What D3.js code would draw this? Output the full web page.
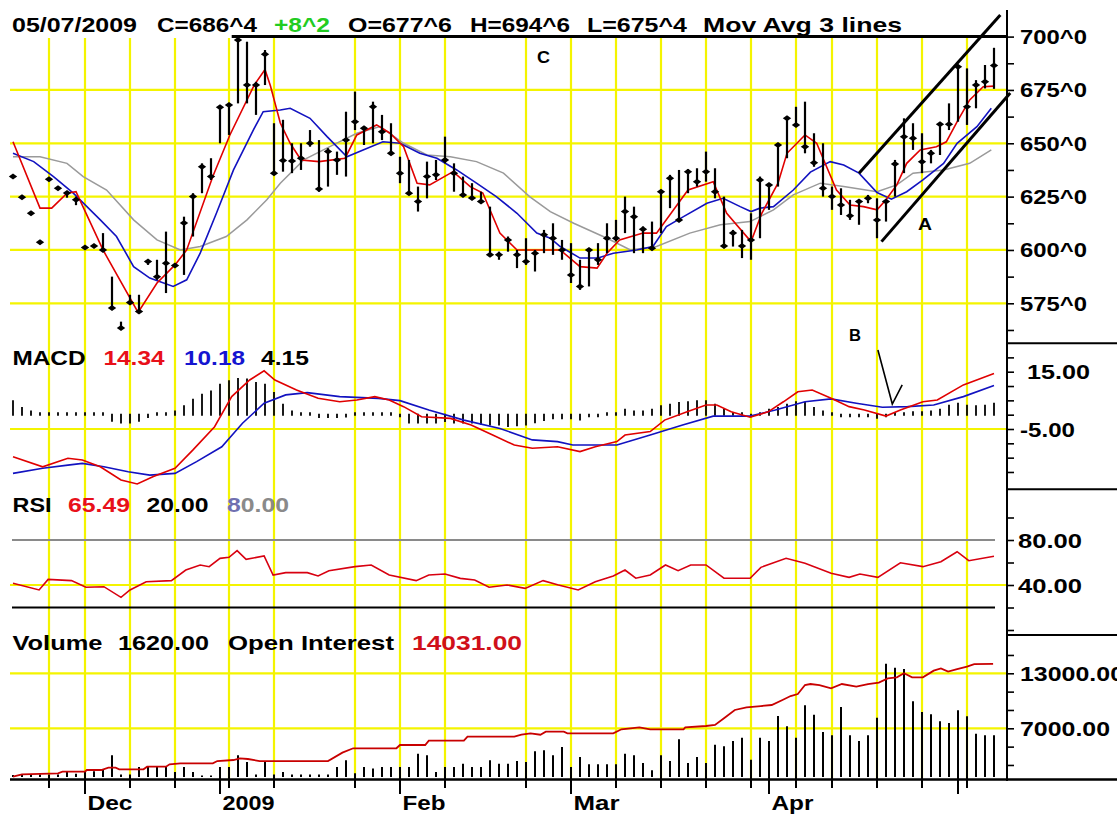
<!DOCTYPE html>
<html><head><meta charset="utf-8">
<script src="https://cdn.jsdelivr.net/npm/d3@7"></script>
<style>
body{margin:0;background:#fff}
svg{display:block}
text{font-family:"Liberation Sans",Arial,Helvetica,sans-serif;font-weight:bold}
</style>
</head><body><svg id="c" width="1117" height="814"></svg>
<script>
// ---------------- DATA ----------------
// trading-day index 0..109 (last bar = 05/07/2009)
const high  = [634.4,624.7,617.2,603.6,633.1,628.9,627.5,625,601.1,601.9,607.9,587.5,566.4,579,579,595.4,595.4,608.6,593.9,615.6,626.6,640.6,643,667.5,668.7,699.2,697.6,678.8,693.7,659.4,661,650,650,656.2,651.5,647.7,646.1,664.8,674.2,657.8,669.5,663.3,659.4,643.7,642.2,629.7,641.4,642.2,653.1,640.6,634.4,631.3,627.3,620.3,599.2,606.3,600,605.5,600,609.4,612.5,604.7,603.2,595.4,600,603.2,612.5,614.1,625,620.3,611,613.3,628.1,635.2,637.5,637.8,638.3,646.1,638.3,625,609.4,609.4,617.2,634.4,631.3,650,662.5,667.1,669.5,654.7,650,629.7,628.9,623.5,623.5,625.8,624.2,623.5,642.2,661.7,659.4,654.7,646.9,659.4,668.7,686.7,685.1,679.6,686.7,694.75];
const low   = [634.4,624.7,617.2,603.6,633.1,628.9,624.5,621,601.1,601.9,599.2,572,563.4,574.3,570.4,593,586,579.8,592,588.3,606.3,626.6,632.8,650,653.9,668.7,668.7,663.3,677.3,636,636.7,636,637.5,648.4,627.3,629.7,635.2,634.4,656.2,649.2,650,651.5,644.5,631.3,625.8,618,624.2,632.8,640.6,627.3,625,623.5,621.9,597.7,595.4,599.2,591.5,593,589.9,598.5,597.7,595.4,584.5,581.3,582.9,593,598.5,604,607.9,598.5,598.5,600,607.9,619.6,613.3,626.6,629.7,632,624.2,600.8,601.6,596.2,595.4,605.5,618.8,629.7,643,657.8,645.3,639,625,618.8,616.4,614.1,611.8,621.9,605.5,613.3,625,636,646.9,636,640.6,644.5,656.2,660.1,658.6,666.4,675.7,675.5];
const close = [634.4,624.7,617.2,603.6,633.1,628.9,626.7,623.5,601.1,601.9,600,572.8,563.4,575.4,571.2,594.6,587.5,593.8,592.7,612.6,625,639,634.4,666.9,668,698.4,677.3,677.3,691.7,636,641.9,641.7,643,650,628.6,646.1,642.2,651.5,660.1,657,667.1,655.4,645.3,636,626.6,622.7,634.4,635.2,642.2,636,625.8,624.3,622.7,597.7,597.7,604.7,597.7,594.6,598.5,607.1,605.5,600,588.3,582.9,600,595.4,605.5,605.5,618,615.6,609.7,600.8,627.3,633.6,614.1,636.7,632,636.7,627.3,601.9,607.9,601.9,604.7,632.8,630.5,649.2,661.7,658.6,648.4,640.9,628.9,625,621.1,616,622.7,624.2,614.1,622.7,640.3,653.1,652.3,641.4,645.3,658.9,658.9,685.9,667.1,677.3,678.8,686.5];

// moving averages: [day index, value]
const maFast = [[0,650.7],[3,619.6],[4.3,619.6],[6,626.6],[7,627.3],[10,600],[13.9,570.7],[16,584.5],[18,593],[19.3,600],[22.2,634.4],[24.1,653.9],[26.8,677.3],[28,684.6],[28.6,677],[29.7,659.5],[30.8,650],[32,642.2],[34,641.4],[36.9,643],[38.2,653.9],[40.4,658.6],[41.9,654.7],[43.4,648.4],[44.9,631.3],[46.3,630.5],[48.9,636.7],[50.8,629.7],[52.2,626.7],[54.1,607.9],[56,600],[58.2,600],[60.8,600],[63,592.2],[64.9,591.5],[66,598.5],[67.4,604.7],[70,607.9],[71.5,607.9],[73.4,618.8],[75,628.1],[77.8,632],[79.3,617.2],[82,603.9],[83.2,617.2],[85,631.3],[86,645.3],[88,653.9],[89.3,650],[90,643],[91.5,628.1],[93,621.1],[94.5,620.3],[96,618.8],[97,623.5],[98.2,630.5],[99.3,640.6],[100.8,646.9],[102.6,648.4],[103.7,650.7],[105,660.9],[106.3,670.3],[107.8,676.5],[109,676.8]];
const maMid = [[0,645.3],[2.3,641.4],[4.5,634.4],[6.7,626.6],[9.7,614.1],[11.5,606.3],[13.4,592.2],[15.2,586.8],[17.8,582.9],[19.3,586],[20.8,598.5],[22.6,617.2],[24.5,637.5],[26.7,656.2],[27.8,664.8],[29.7,665.6],[30.8,666.4],[33,661.7],[34.9,653.1],[37.1,643.7],[38.9,646.9],[41.1,650.7],[43,650],[45.2,645.3],[47.1,643],[49.3,637.5],[51.5,631.3],[53.7,625],[56,617.2],[58.2,607.9],[59.7,605.5],[60.8,601.6],[63,596.2],[65,596.2],[66.7,598.5],[69.3,600],[71.1,601.6],[72.6,611],[74.5,615.6],[77.1,621.9],[78.9,624.2],[80.8,620.3],[82,618],[83,619.6],[84.5,620.3],[86.7,628.1],[88.6,636.5],[90.8,641.4],[92.3,639.8],[94,636],[96,626.9],[97.6,623.8],[99.3,627.3],[101.1,632.8],[103.4,640.6],[104.9,650],[107.1,657.8],[108.7,666.4]];
const maSlow = [[0,643.7],[3,643.7],[6,640.6],[7.8,634.4],[10.4,628.1],[13.4,614.1],[16,604.7],[18.6,600],[20.8,601.6],[23.7,606.3],[26,614.1],[28.2,623.5],[29.7,631.3],[32.3,642.2],[35.2,648.4],[38.2,654.7],[40.8,657.8],[43.4,650],[46,644.5],[48.6,643.7],[51.5,641.4],[54.5,636],[57.4,625],[59.7,618],[62.3,612.5],[66,605.5],[68.6,600],[71.5,601.6],[75.2,607.9],[78.6,611.8],[81.9,613.3],[84.5,618.8],[86.7,625.8],[89.7,631.3],[92.3,629.7],[96,627.3],[98.2,630.5],[100,636],[103.4,637.5],[106.3,640.6],[108.7,646.9]];

// MACD
const macdLine = [[0,-14.7],[3.3,-18.2],[6.1,-15.2],[7.7,-15.8],[9.7,-18.2],[12,-22.8],[13.8,-24.2],[15.6,-21.6],[18,-18.7],[20,-12.3],[22.4,-4.2],[24.3,6.3],[26.3,12.1],[27.9,15.3],[29.1,12.1],[31.5,8.6],[33.9,5.7],[36.3,4.5],[38.2,5.1],[40.2,6.3],[41.8,5.1],[43.4,2.8],[45.4,-0.7],[48.6,-1.3],[50.9,-3.6],[53.3,-7.1],[55.7,-10.6],[57.7,-11.7],[60.5,-11.2],[63,-12.9],[64.7,-11.2],[67.1,-9.4],[68,-7.1],[70.8,-5.9],[72.4,-1.9],[74.9,1],[77,3.4],[78.2,3.4],[79.8,1],[81.9,-0.9],[83.9,1],[85.6,4.5],[87.2,8],[88.8,8.6],[90.9,5.7],[92.9,2.8],[94.6,1.6],[97,-0.5],[98.6,1.6],[101.1,4.5],[102.7,5.1],[105.6,10.4],[109,14.34]];
const signalLine = [[0,-20.5],[3.3,-18.7],[6.1,-17.6],[7.7,-17],[10.1,-18.2],[12.8,-19.9],[15.2,-21.1],[18,-20.5],[20.4,-16.4],[23.2,-11.2],[25.5,-3],[27.9,4],[30.3,6.9],[32.7,7.7],[36.3,6.3],[40.6,5.7],[43,4.9],[46.2,1.6],[50.1,-1.9],[54.1,-4.8],[57.7,-8.8],[60.5,-9.4],[62.2,-10.6],[67.1,-10.6],[70.8,-7.1],[74.4,-3.6],[77.8,-0.5],[81.9,-0.5],[84.7,1.6],[88,4.5],[90.9,5.5],[93.7,4],[96.6,2.6],[99.4,2.8],[102.3,3.4],[105.6,6.3],[109,10.18]];
const macdHist = [5.0,2.7,1.5,0.3,0.3,0.3,0.3,0.3,0.3,0.3, 0.3,-2.5,-3.1,-3.1,-2.5,-1.2,0,0.3,1.5,3.3, 5.6,7.3,8.4,10.8,12.0,12.8,12.6,11.4,10.8,7.9, 3.8,1.5,0.3,0.2,-1.2,-1.2,-1.2,-1.0,0.2,0, 0.3,0,0.3,-0.6,-3.1,-3.1,-3.1,-3.1,-2.6,-3.1, -3.1,-3.1,-3.5,-3.8,-3.8,-4.3,-4.0,-3.8,-3.0,-2.2, -1.6,-1.6,-1.6,-2.0,-0.3,-0.3,0.3,0.3,2.1,1.5, 1.5,2.1,3.3,3.8,4.4,4.7,5.0,5.0,3.8,2.1, 0.3,0.3,-0.3,0.3,2.1,2.7,3.8,4.7,4.4,2.7, 1.5,0.3,-0.6,-0.8,-0.8,-0.8,-1.4,-0.6,0.3,0.3, 1.2,1.2,1.5,2.1,3.5,4.2,3.5,3.3,3.5,4.15];

// RSI
const rsi = [[0,41.5],[2.9,35.6],[3.9,45],[6.5,43.9],[8.1,38],[10.1,38.5],[12,29],[13,35.6],[14.8,42.9],[17.6,43.9],[19.2,53.3],[20.8,57.8],[21.8,56.3],[23,63.7],[24,64.6],[24.9,70.5],[25.9,62.8],[27.9,65.8],[28.9,48.9],[30.3,51],[32.7,51],[33.9,48],[35.1,52.7],[38,56.3],[39.8,57.8],[41.8,48.9],[44.8,43.9],[46.2,48.9],[48,49.8],[49.7,45.9],[51.3,44.4],[52.9,38],[54.9,40],[56.9,37],[58.9,43.9],[60.6,40],[62.8,35.6],[64.7,42.9],[66.7,48],[68,53.3],[69.2,46],[70.8,48.9],[72.5,57.8],[73.9,52.7],[75.3,57.8],[77,57.8],[79,46],[81.9,46],[83.1,55.7],[85.9,63.7],[88,59.3],[90.9,50.4],[92.9,46.8],[94.1,49.8],[96.1,46.8],[98.6,59.8],[101.1,56.3],[103.1,60.7],[104.9,69.6],[106.2,61.6],[109,65.49]];
const rsiLevels = [20, 80];

// Volume & open interest
const volume = [80,120,100,100,100,100,194,130,194,220,287,842,100,100,389,389,389,389,194,389,194,60,60,389,389,842,583,100,583,100,194,100,100,100,100,100,389,648,150,389,330,389,389,389,389,906,842,194,389,389,518,389,389,648,518,518,622,583,1000,1036,842,1165,389,777,492,492,492,492,906,842,544,259,842,622,1465,544,777,544,1256,1192,1399,1528,674,1528,1399,2370,1969,1528,2785,2422,1749,1620,2720,1620,1399,1620,2305,4403,4248,4196,2941,2526,2435,2163,2098,2591,2357,1684,1620,1620];
const openInterest = [[0,1720],[1,1980],[5,2090],[5.5,2265],[8,2265],[8.2,2450],[9.8,2450],[10.6,2700],[11.4,2700],[11.8,2530],[14.5,2530],[14.9,2810],[17,2810],[17.4,3070],[18.6,3180],[22.2,3180],[22.7,3430],[24.5,3540],[25.2,3720],[26.1,3650],[27.4,3430],[35,3430],[36.6,4340],[37.8,4820],[42.6,4820],[43,5180],[45.8,5180],[46.2,5650],[50.1,5650],[50.5,6090],[55.7,6090],[56.5,6300],[57.5,6450],[58.6,6300],[59.2,6630],[61.2,6630],[61.6,6450],[66.7,6450],[67.6,6890],[69.6,7110],[70.8,6890],[74.5,6890],[74.7,7110],[77,7250],[78,7360],[79,8090],[80.2,9000],[81.5,9290],[83.1,9430],[84.3,9540],[85.5,10090],[86.4,10520],[87.2,10740],[88,11720],[88.6,11830],[89.6,11720],[90.9,11360],[92.1,11830],[93.7,11540],[95,11830],[96.2,11980],[97.2,12450],[98.2,12560],[99,13000],[99.9,12560],[101.1,12560],[102.3,13290],[103.1,13540],[103.9,13180],[104.8,13440],[106,13720],[106.8,14010],[108.9,14031]];

// axis / grid
const gridIdx   = [4,8,13,18,24,29,38,43,48,57,62,67,72,77,82,87,91,96,101,106];
const monthIdx  = [8,23,43,62,84,105];
const monthLbl  = ["Dec","2009","Feb","Mar","Apr",""];
const priceGrid = [575,600,625,650,675];
const priceLbl  = [700,675,650,625,600,575];
const priceMinor= [562.5,575,587.5,600,612.5,625,637.5,650,662.5,675,687.5,700];
const macdLbl   = [15,-5];
const macdMinor = [20,15,10,5,0,-5,-10,-15,-20];
const rsiLbl    = [80,40];
const rsiMinor  = [100,80,60,40,20,0];
const oiLbl     = [13000,7000];
const oiMinor   = [15000,13000,11000,9000,7000,5000,3000];

// drawn annotations (in data coordinates)
const lineC     = [[24.3,700],[110.4,700]];
const chanUpper = [[94.0,636.0],[109.7,710.1]];
const chanLower = [[96.5,603.9],[110.8,673.6]];
const arrowB    = [[96.1,22.6],[97.7,3.7],[98.8,10.4]];

// ---------------- DRAW ----------------
const W=1117,H=814,AX=1007,L=10;
const svg=d3.select("#c");
svg.append("rect").attr("width",W).attr("height",H).attr("fill","#fff");

const x  = d3.scaleLinear().domain([0,109]).range([13,994]);
const yP = d3.scaleLinear().domain([575,700]).range([303.3,36.6]);
const yM = d3.scaleLinear().domain([-5,15]).range([429,371.7]);
const yR = d3.scaleLinear().domain([40,80]).range([585,540]);
const yOI= d3.scaleLinear().domain([7000,13000]).range([728.3,673.3]);
const yV = d3.scaleLinear().domain([0,5000]).range([777,648.3]);

const YEL="#f4f400";
const grid=svg.append("g");
grid.selectAll(".vg").data(gridIdx).join("line")
  .attr("x1",d=>x(d)).attr("x2",d=>x(d)).attr("y1",38).attr("y2",778)
  .attr("stroke",YEL).attr("stroke-width",2.2);
const hg=(vals,sc)=>grid.append("g").selectAll("line").data(vals).join("line")
  .attr("x1",L).attr("x2",AX).attr("y1",d=>sc(d)).attr("y2",d=>sc(d))
  .attr("stroke",YEL).attr("stroke-width",2.2);
hg(priceGrid,yP); hg([-5],yM); hg([40],yR); hg(oiLbl,yOI);

function txt(x0,y0,s,w,fill,size){
  const t=svg.append("text").attr("x",x0).attr("y",y0).text(s)
    .attr("fill",fill||"#000").style("font-size",(size||21)+"px");
  if(w) t.attr("textLength",w).attr("lengthAdjust","spacingAndGlyphs");
  return t;
}

// ---- price panel ----
const lineFn=sc=>d3.line().x(d=>x(d[0])).y(d=>sc(d[1]));
svg.append("path").datum(maSlow).attr("d",lineFn(yP)).attr("fill","none").attr("stroke","#9a9a9a").attr("stroke-width",1.5);
svg.append("path").datum(maMid).attr("d",lineFn(yP)).attr("fill","none").attr("stroke","#1212c0").attr("stroke-width",1.6);
svg.append("path").datum(maFast).attr("d",lineFn(yP)).attr("fill","none").attr("stroke","#e00000").attr("stroke-width",1.6);

const bars=svg.append("g");
bars.selectAll("line").data(d3.range(close.length).filter(i=>high[i]!==low[i])).join("line")
  .attr("x1",i=>x(i)).attr("x2",i=>x(i))
  .attr("y1",i=>yP(high[i])).attr("y2",i=>yP(low[i]))
  .attr("stroke","#000").attr("stroke-width",2.2);
bars.selectAll("path").data(d3.range(close.length)).join("path")
  .attr("transform",i=>`translate(${x(i)},${yP(close[i])})`)
  .attr("d","M-4.2,0L0,-3L4.2,0L0,3Z").attr("fill","#000");

const ann=d3.line().x(d=>x(d[0])).y(d=>yP(d[1]));
svg.append("path").datum(lineC).attr("d",ann).attr("stroke","#000").attr("stroke-width",3).attr("fill","none");
svg.append("path").datum(chanUpper).attr("d",ann).attr("stroke","#000").attr("stroke-width",3).attr("fill","none");
svg.append("path").datum(chanLower).attr("d",ann).attr("stroke","#000").attr("stroke-width",3).attr("fill","none");
svg.append("path").datum(arrowB).attr("d",lineFn(yM)).attr("stroke","#000").attr("stroke-width",1.6).attr("fill","none");
txt(537,63,"C",13,"#000",16);
txt(918,230,"A",14,"#000",17);
txt(849,341,"B",12,"#000",16);

// ---- MACD panel ----
const y0=yM(0);
svg.append("g").selectAll("line").data(macdHist).join("line")
  .attr("x1",(d,i)=>x(i)).attr("x2",(d,i)=>x(i))
  .attr("y1",d=>d>=0?y0+1:y0-1)
  .attr("y2",d=>{const v=yM(d); return Math.abs(v-y0)<2.5?(d>=0?y0-2.5:y0+2.5):v;})
  .attr("stroke","#000").attr("stroke-width",1.8);
svg.append("path").datum(signalLine).attr("d",lineFn(yM)).attr("fill","none").attr("stroke","#1212c0").attr("stroke-width",1.6);
svg.append("path").datum(macdLine).attr("d",lineFn(yM)).attr("fill","none").attr("stroke","#e00000").attr("stroke-width",1.6);

// ---- RSI panel ----
svg.append("g").selectAll("line").data(rsiLevels).join("line")
  .attr("x1",12).attr("x2",x(109)+1).attr("y1",d=>yR(d)).attr("y2",d=>yR(d))
  .attr("stroke",d=>d===80?"#8a8a8a":"#000").attr("stroke-width",2);
svg.append("path").datum(rsi).attr("d",lineFn(yR)).attr("fill","none").attr("stroke","#d80010").attr("stroke-width",1.6);

// ---- Volume / OI panel ----
svg.append("g").selectAll("line").data(volume).join("line")
  .attr("x1",(d,i)=>x(i)).attr("x2",(d,i)=>x(i))
  .attr("y1",yV(0)).attr("y2",d=>yV(d))
  .attr("stroke","#000").attr("stroke-width",2);
svg.append("path").datum(openInterest).attr("d",lineFn(yOI)).attr("fill","none").attr("stroke","#c80000").attr("stroke-width",1.8);

// ---- right axis ----
const ax=svg.append("g").attr("transform",`translate(${AX},0)`);
ax.append("line").attr("x1",0).attr("x2",0).attr("y1",10).attr("y2",781).attr("stroke","#000").attr("stroke-width",2);
[343.3,489.3,635].forEach(yy=>svg.append("line").attr("x1",AX).attr("x2",W).attr("y1",yy).attr("y2",yy).attr("stroke","#000").attr("stroke-width",2));
svg.append("line").attr("x1",L).attr("x2",W).attr("y1",779.5).attr("y2",779.5).attr("stroke","#000").attr("stroke-width",2.5);

function minorTicks(vals,sc){
  const a=d3.axisRight(sc).tickValues(vals).tickSize(7).tickFormat("");
  const g=ax.append("g").call(a); g.select(".domain").remove();
  g.selectAll("line").attr("stroke","#000").attr("stroke-width",1.6);
}
minorTicks(priceMinor,yP); minorTicks(macdMinor,yM); minorTicks(rsiMinor,yR); minorTicks(oiMinor,yOI);

priceLbl.forEach(v=>txt(1020,yP(v)+7.5,v+"^0",67));
txt(1027,yM(15)+7.5,"15.00",63);
txt(1020,yM(-5)+7.5,"-5.00",55);
rsiLbl.forEach(v=>txt(1018,yR(v)+7.5,v.toFixed(2),64));
txt(1020,yOI(13000)+7.5,"13000.00",104);
txt(1020,yOI(7000)+7.5,"7000.00",90);

// ---- x axis ----
svg.append("g").selectAll("line").data(gridIdx).join("line")
  .attr("x1",d=>x(d)).attr("x2",d=>x(d)).attr("y1",777).attr("y2",788)
  .attr("stroke","#000").attr("stroke-width",2);
svg.append("g").selectAll("line").data(monthIdx).join("line")
  .attr("x1",d=>x(d)).attr("x2",d=>x(d)).attr("y1",777).attr("y2",794)
  .attr("stroke","#000").attr("stroke-width",2);
const mW=[45,52,43,46,42,0];
monthIdx.forEach((m,k)=>{ if(monthLbl[k]) txt(x(m)+2.5,810,monthLbl[k],mW[k]); });

// ---- headers ----
txt(12,32,"05/07/2009",125);
txt(157,32,"C=686^4",100);
txt(274,32,"+8^2",56,"#22cc22");
txt(348,32,"O=677^6",104);
txt(470,32,"H=694^6",100);
txt(587,32,"L=675^4",100);
txt(703,32,"Mov Avg 3 lines",199);

txt(12.5,365,"MACD",73);
txt(103.5,365,"14.34",61,"#e8101a");
txt(184,365,"10.18",61,"#1515d0");
txt(261,365,"4.15",48);

txt(12.5,512,"RSI",39);
txt(68,512,"65.49",62,"#e8101a");
txt(146.5,512,"20.00",62);
const t80=txt(227,512,"",62,"#8a8a8a");
t80.append("tspan").attr("fill","#7070b0").text("8");
t80.append("tspan").text("0.00");

txt(12.5,650,"Volume",90);
txt(118,650,"1620.00",91);
txt(228,650,"Open Interest",166);
txt(412,650,"14031.00",110,"#d0101a");
</script>
</body></html>
